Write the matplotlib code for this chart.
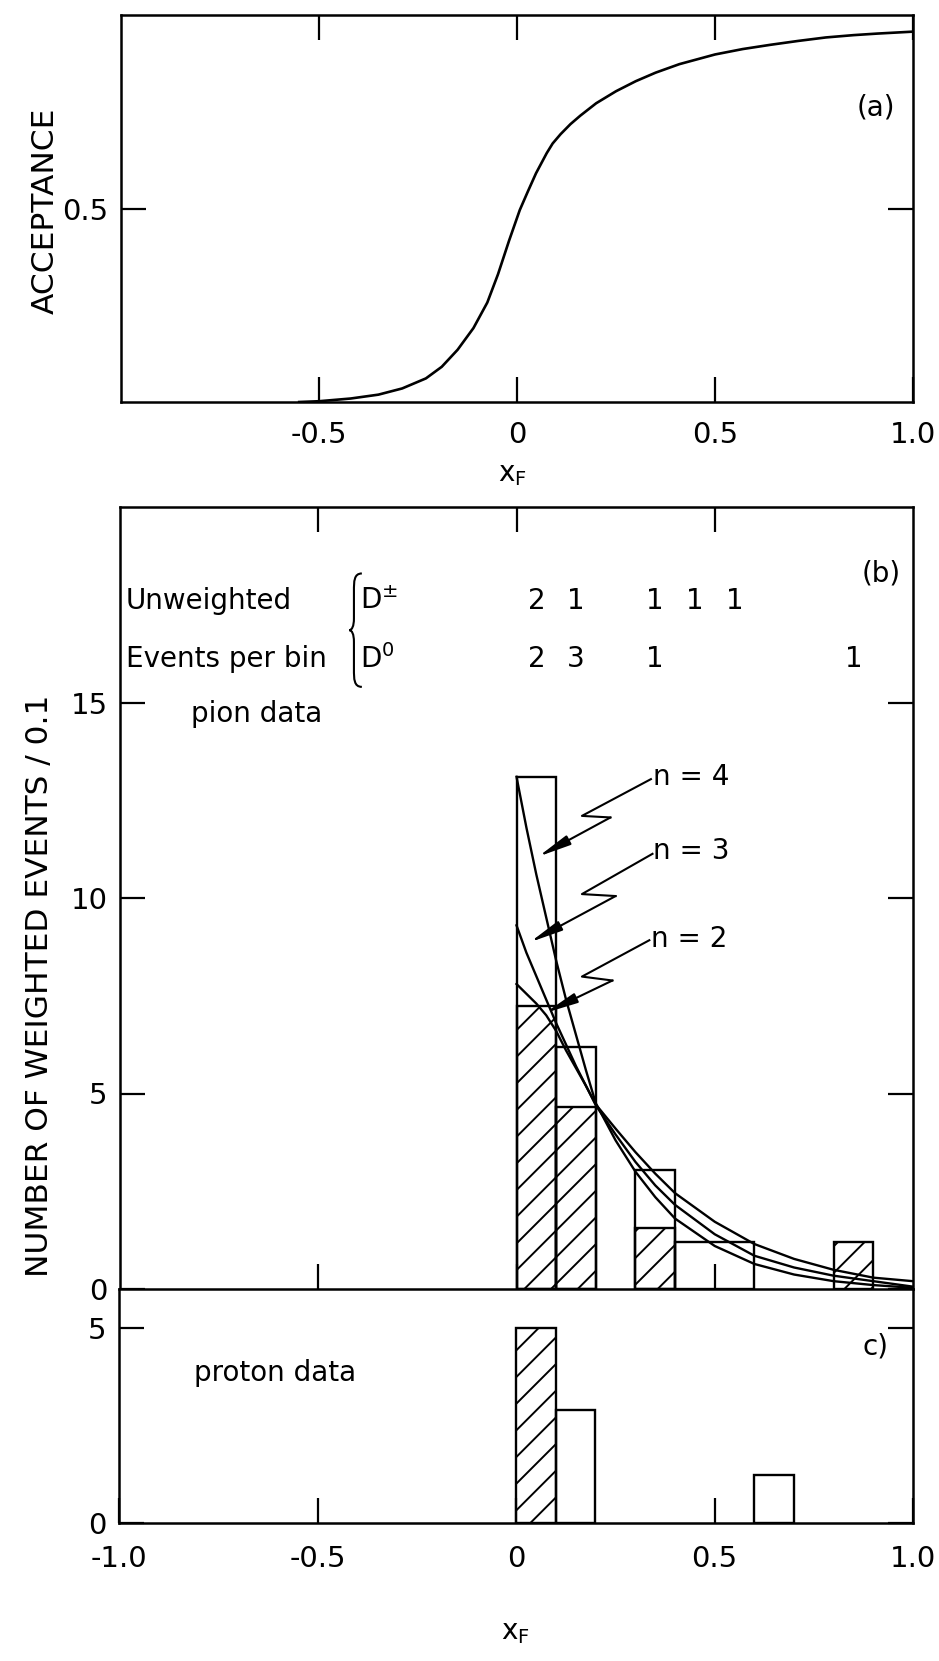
import matplotlib
matplotlib.use("Agg")
import matplotlib.pyplot as plt
from matplotlib.path import Path
from matplotlib.patches import PathPatch

# render at 80 dpi so the default hatch spacing matches the scan; K converts sizes
DPI = 80
K = 100 / DPI

plt.rcParams['font.family'] = ['DejaVu Sans']
plt.rcParams['axes.unicode_minus'] = False
plt.rcParams['hatch.linewidth'] = 1.4 * K
plt.rcParams['axes.linewidth'] = 1.8 * K
plt.rcParams['mathtext.fontset'] = 'dejavusans'

# (a) acceptance curve
acc_x = [-0.55, -0.5, -0.42, -0.35, -0.29, -0.23, -0.19, -0.15, -0.11, -0.075,
         -0.048, -0.02, 0.007, 0.027, 0.048, 0.075, 0.09, 0.11, 0.135, 0.16,
         0.20, 0.25, 0.30, 0.35, 0.41, 0.50, 0.57, 0.64, 0.71, 0.78, 0.85,
         0.91, 1.0]
acc_y = [0.0, 0.002, 0.009, 0.019, 0.035, 0.061, 0.091, 0.135, 0.191, 0.257,
         0.330, 0.417, 0.496, 0.543, 0.591, 0.643, 0.668, 0.692, 0.718, 0.740,
         0.772, 0.803, 0.829, 0.851, 0.873, 0.898, 0.912, 0.923, 0.933, 0.942,
         0.948, 0.952, 0.957]

# (b) pion data histograms (bin left edge, width, height)
all_left = [0.0, 0.1, 0.3, 0.4]
all_width = [0.1, 0.1, 0.1, 0.2]
all_height = [13.1, 6.2, 3.05, 1.2]
d0_left = [0.0, 0.1, 0.3, 0.8]
d0_height = [7.25, 4.65, 1.55, 1.2]

# fitted curves (1-x)^n
fit_x = [0.0, 0.025, 0.05, 0.075, 0.1, 0.125, 0.15, 0.175, 0.2, 0.25, 0.3,
         0.35, 0.4, 0.5, 0.6, 0.7, 0.8, 0.9, 1.0]
fit_n4 = [13.1, 11.8, 10.6, 9.5, 8.4, 7.4, 6.5, 5.6, 4.75, 3.8, 3.0,
          2.35, 1.8, 1.1, 0.64, 0.37, 0.2, 0.1, 0.03]
fit_n3 = [9.3, 8.6, 8.0, 7.4, 6.8, 6.25, 5.7, 5.2, 4.7, 3.95, 3.25,
          2.65, 2.15, 1.4, 0.85, 0.55, 0.34, 0.2, 0.06]
fit_n2 = [7.8, 7.55, 7.3, 7.0, 6.6, 6.1, 5.65, 5.2, 4.72, 4.1, 3.5,
          2.95, 2.45, 1.72, 1.15, 0.77, 0.49, 0.29, 0.2]

# unweighted events per bin
dpm_centers = [0.05, 0.15, 0.35, 0.45, 0.55]
dpm_counts = ['2', '1', '1', '1', '1']
d0_centers = [0.05, 0.15, 0.35, 0.85]
d0_counts = ['2', '3', '1', '1']

# (c) proton data
p_d0_left = [0.0]
p_d0_height = [5.0]
p_open_left = [0.1, 0.6]
p_open_height = [2.9, 1.24]

W, H = 939, 1661
fig = plt.figure(figsize=(W / DPI, H / DPI), dpi=DPI)


def box(l, t, r, b):
    return [l / W, 1 - b / H, (r - l) / W, (b - t) / H]


ax_a = fig.add_axes(box(121, 15, 913, 402))
ax_b = fig.add_axes(box(120, 507, 913, 1289))
ax_c = fig.add_axes(box(119, 1289, 913, 1523))

FS = 20 * K
LW = 1.7 * K
for ax in (ax_a, ax_b, ax_c):
    ax.set_xlim(-1, 1)
    ax.tick_params(direction='in', length=18 * K, width=1.6 * K, top=True,
                   right=True, labelsize=21 * K, pad=9 * K)

# ---- (a)
ax_a.plot(acc_x, acc_y, color='k', lw=1.9 * K)
ax_a.set_ylim(0, 1)
ax_a.set_yticks([0.5])
ax_a.set_yticklabels(['0.5'])
ax_a.set_xticks([-0.5, 0, 0.5, 1.0])
ax_a.set_xticklabels(['-0.5', '0', '0.5', '1.0'])
ax_a.tick_params(axis='x', pad=14 * K)
ax_a.text(0.905, 0.76, '(a)', fontsize=FS, ha='center', va='center')

# ---- (b)
ax_b.bar(all_left, all_height, width=all_width, align='edge', fill=False,
         edgecolor='k', lw=LW)
ax_b.bar(d0_left, d0_height, width=0.1, align='edge', fill=False, hatch='/',
         edgecolor='k', lw=LW)
for ys in (fit_n4, fit_n3, fit_n2):
    ax_b.plot(fit_x, ys, color='k', lw=LW)

# zig-zag leaders to the curves
leaders = [('n = 4', (0.345, 13.1), [(0.339, 13.04), (0.165, 12.1), (0.237, 12.06)], (0.055, 11.06)),
           ('n = 3', (0.345, 11.2), [(0.343, 11.13), (0.165, 10.1), (0.25, 10.05)], (0.034, 8.87)),
           ('n = 2', (0.34, 8.95), [(0.335, 8.92), (0.165, 7.99), (0.242, 7.89)], (0.072, 7.06))]
for label, tpos, pts, tip in leaders:
    ax_b.text(tpos[0], tpos[1], label, fontsize=FS, ha='left', va='center')
    ax_b.plot([p[0] for p in pts], [p[1] for p in pts], color='k', lw=1.5 * K)
    ax_b.annotate('', xy=tip, xytext=pts[-1],
                  arrowprops=dict(arrowstyle='-|>,head_length=0.9,head_width=0.14',
                                  color='k', lw=1.5 * K,
                                  mutation_scale=22 * K, shrinkA=0, shrinkB=0))

ax_b.set_ylim(0, 20)
ax_b.set_yticks([0, 5, 10, 15])
ax_b.set_yticklabels(['0', '5', '10', '15'])
ax_b.set_xticks([-0.5, 0, 0.5])
ax_b.tick_params(axis='x', labelbottom=False)
ax_b.spines['bottom'].set_visible(False)

ax_b.text(-0.985, 17.6, 'Unweighted', fontsize=FS, ha='left', va='center')
ax_b.text(-0.985, 16.1, 'Events per bin', fontsize=FS, ha='left', va='center')
ax_b.text(-0.395, 17.6, r'D$^{\pm}$', fontsize=FS, ha='left', va='center')
ax_b.text(-0.395, 16.1, r'D$^{0}$', fontsize=FS, ha='left', va='center')
for xc, c in zip(dpm_centers, dpm_counts):
    ax_b.text(xc, 17.6, c, fontsize=FS, ha='center', va='center')
for xc, c in zip(d0_centers, d0_counts):
    ax_b.text(xc, 16.1, c, fontsize=FS, ha='center', va='center')

# brace
x0, yt, ym, yb = -0.41, 18.3, 16.85, 15.4
verts = [(x0 + 0.02, yt), (x0, yt), (x0, yt - 0.2), (x0, yt - 0.45),
         (x0, ym + 0.3),
         (x0, ym + 0.1), (x0 - 0.005, ym), (x0 - 0.012, ym),
         (x0 - 0.005, ym), (x0, ym - 0.1), (x0, ym - 0.3),
         (x0, yb + 0.45),
         (x0, yb + 0.2), (x0, yb), (x0 + 0.02, yb)]
codes = [Path.MOVETO, Path.CURVE4, Path.CURVE4, Path.CURVE4,
         Path.LINETO,
         Path.CURVE4, Path.CURVE4, Path.CURVE4,
         Path.CURVE4, Path.CURVE4, Path.CURVE4,
         Path.LINETO,
         Path.CURVE4, Path.CURVE4, Path.CURVE4]
ax_b.add_patch(PathPatch(Path(verts, codes), fill=False, lw=1.5 * K, edgecolor='k'))

ax_b.text(0.92, 18.3, '(b)', fontsize=FS, ha='center', va='center')
ax_b.text(-0.82, 14.7, 'pion data', fontsize=FS, ha='left', va='center')

# ---- (c)
ax_c.bar(p_d0_left, p_d0_height, width=0.1, align='edge', fill=False, hatch='/',
         edgecolor='k', lw=LW)
ax_c.bar(p_open_left, p_open_height, width=0.1, align='edge', fill=False,
         edgecolor='k', lw=LW)
ax_c.set_ylim(0, 6)
ax_c.set_yticks([0, 5])
ax_c.set_yticklabels(['0', '5'])
ax_c.set_xticks([-1.0, -0.5, 0, 0.5, 1.0])
ax_c.set_xticklabels(['-1.0', '-0.5', '0', '0.5', '1.0'])
ax_c.tick_params(axis='x', top=False, pad=16 * K)
ax_c.text(-0.81, 3.84, 'proton data', fontsize=FS, ha='left', va='center')
ax_c.text(0.905, 4.53, 'c)', fontsize=FS, ha='center', va='center')

# axis titles
fig.text(45 / W, 1 - 211 / H, 'ACCEPTANCE', rotation=90, fontsize=22.5 * K,
         ha='center', va='center')
fig.text(40 / W, 1 - 986 / H, 'NUMBER OF WEIGHTED EVENTS / 0.1', rotation=90,
         fontsize=22.5 * K, ha='center', va='center')
fig.text(512 / W, 1 - 474 / H, r'x$_{\rm F}$', fontsize=FS, ha='center', va='center')
fig.text(515 / W, 1 - 1632 / H, r'x$_{\rm F}$', fontsize=FS, ha='center', va='center')

fig.savefig('out.png', dpi=DPI)
